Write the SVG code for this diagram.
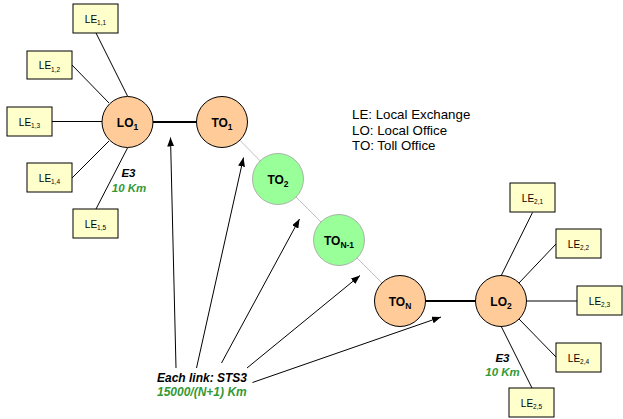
<svg xmlns="http://www.w3.org/2000/svg" width="623" height="419" viewBox="0 0 623 419">
<style>
text{font-family:"Liberation Sans",Arial,sans-serif}
.le rect{fill:#FFFFCC;stroke:#000;stroke-width:1}
.le text{font-size:10px;text-anchor:middle;fill:#000}
.sub6{font-size:6.5px}
.off circle{fill:#FFCC99;stroke:#000;stroke-width:1}
.tg circle{fill:#99FF99;stroke:#a0a0a0;stroke-width:0.8}
.cl{font-size:12px;font-weight:bold;text-anchor:middle;fill:#000}
.sub8{font-size:8.5px}
.thin{stroke:#000;stroke-width:1;fill:none}
.thick{stroke:#000;stroke-width:2;fill:none}
.gray{stroke:#c0c0c0;stroke-width:1;fill:none}
.arr{stroke:#000;stroke-width:1;fill:none;marker-end:url(#ah)}
.bi{font-weight:bold;font-style:italic;font-size:12px}
.lbl{font-weight:bold;font-style:italic;font-size:11.5px;text-anchor:middle}
.blk{fill:#000}
.grn{fill:#339933}
.leg{font-size:13.3px;fill:#000}
</style>
<defs>
<marker id="ah" markerWidth="9" markerHeight="7" refX="9" refY="3.5" orient="auto" markerUnits="userSpaceOnUse">
<path d="M0,0 L9,3.5 L0,7 z" fill="#000"/>
</marker>
</defs>
<rect width="623" height="419" fill="#fff"/>
<g id="connectors">
<line class="thin" x1="96" y1="33" x2="127.5" y2="96"/>
<line class="thin" x1="72" y1="65" x2="109" y2="103"/>
<line class="thin" x1="52" y1="121.5" x2="102" y2="121.5"/>
<line class="thin" x1="72" y1="178" x2="109" y2="141"/>
<line class="thin" x1="96" y1="209" x2="127.5" y2="148"/>
<line class="thick" x1="152" y1="122" x2="197" y2="122"/>
<line class="gray" x1="222" y1="122" x2="278" y2="179"/>
<line class="gray" x1="278" y1="179" x2="339" y2="240"/>
<line class="gray" x1="339" y1="240" x2="400" y2="301"/>
<line class="thick" x1="425" y1="301" x2="476" y2="301"/>
<line class="thin" x1="532.5" y1="212.5" x2="501" y2="276"/>
<line class="thin" x1="556" y1="244" x2="519" y2="283"/>
<line class="thin" x1="577" y1="301" x2="526" y2="301"/>
<line class="thin" x1="556" y1="357" x2="519" y2="319"/>
<line class="thin" x1="532" y1="388" x2="501" y2="326"/>
<line class="arr" x1="176" y1="368" x2="170.5" y2="137.5"/>
<line class="arr" x1="196.5" y1="368" x2="243.5" y2="157.5"/>
<line class="arr" x1="221.5" y1="363" x2="299.5" y2="219"/>
<line class="arr" x1="247" y1="368" x2="360" y2="275.5"/>
<line class="arr" x1="252.5" y1="382.5" x2="441" y2="317"/>
</g>
<g id="LE11" class="le"><rect x="73" y="4" width="45" height="29"/><text x="95.5" y="22.5">LE<tspan class="sub6" dy="2.5">1,1</tspan></text></g>
<g id="LE12" class="le"><rect x="27" y="51" width="45" height="28"/><text x="49.5" y="69">LE<tspan class="sub6" dy="2.5">1,2</tspan></text></g>
<g id="LE13" class="le"><rect x="7" y="107" width="45" height="29"/><text x="29.5" y="125.5">LE<tspan class="sub6" dy="2.5">1,3</tspan></text></g>
<g id="LE14" class="le"><rect x="27" y="163" width="45" height="29"/><text x="49.5" y="181.5">LE<tspan class="sub6" dy="2.5">1,4</tspan></text></g>
<g id="LE15" class="le"><rect x="73" y="209" width="45" height="29"/><text x="95.5" y="227.5">LE<tspan class="sub6" dy="2.5">1,5</tspan></text></g>
<g id="LE21" class="le"><rect x="510" y="183" width="45" height="29"/><text x="532.5" y="201.5">LE<tspan class="sub6" dy="2.5">2,1</tspan></text></g>
<g id="LE22" class="le"><rect x="556" y="229" width="45" height="29"/><text x="578.5" y="247.5">LE<tspan class="sub6" dy="2.5">2,2</tspan></text></g>
<g id="LE23" class="le"><rect x="577" y="286" width="45" height="29"/><text x="599.5" y="304.5">LE<tspan class="sub6" dy="2.5">2,3</tspan></text></g>
<g id="LE24" class="le"><rect x="556" y="343" width="45" height="29"/><text x="578.5" y="361.5">LE<tspan class="sub6" dy="2.5">2,4</tspan></text></g>
<g id="LE25" class="le"><rect x="509" y="388" width="45" height="29"/><text x="531.5" y="406.5">LE<tspan class="sub6" dy="2.5">2,5</tspan></text></g>
<g id="LO1" class="off"><circle cx="127.5" cy="122" r="25.5"/><text class="cl" x="127.5" y="127">LO<tspan class="sub8" dy="2.5">1</tspan></text></g>
<g id="TO1" class="off"><circle cx="222" cy="122" r="25.5"/><text class="cl" x="222" y="127">TO<tspan class="sub8" dy="2.5">1</tspan></text></g>
<g id="TO2" class="tg"><circle cx="278" cy="179" r="25.5"/><text class="cl" x="278" y="184">TO<tspan class="sub8" dy="2.5">2</tspan></text></g>
<g id="TON1" class="tg"><circle cx="339" cy="240" r="25.5"/><text class="cl" x="339" y="245">TO<tspan class="sub8" dy="2.5">N-1</tspan></text></g>
<g id="TON" class="off"><circle cx="400" cy="301" r="25.5"/><text class="cl" x="400" y="306">TO<tspan class="sub8" dy="2.5">N</tspan></text></g>
<g id="LO2" class="off"><circle cx="501" cy="301" r="25.5"/><text class="cl" x="501" y="306">LO<tspan class="sub8" dy="2.5">2</tspan></text></g>
<g id="legend">
<text class="leg" x="352" y="119">LE: Local Exchange</text>
<text class="leg" x="352" y="134.5">LO: Local Office</text>
<text class="leg" x="352" y="150">TO: Toll Office</text>
</g>
<g id="labels">
<text class="lbl blk" x="128.5" y="176.5">E3</text>
<text class="lbl grn" x="129" y="191.5">10 Km</text>
<text class="lbl blk" x="502.5" y="361.5">E3</text>
<text class="lbl grn" x="502.5" y="376">10 Km</text>
<text class="bi blk" x="157" y="382">Each link: STS3</text>
<text class="bi grn" x="157" y="396">15000/(N+1) Km</text>
</g>
</svg>
